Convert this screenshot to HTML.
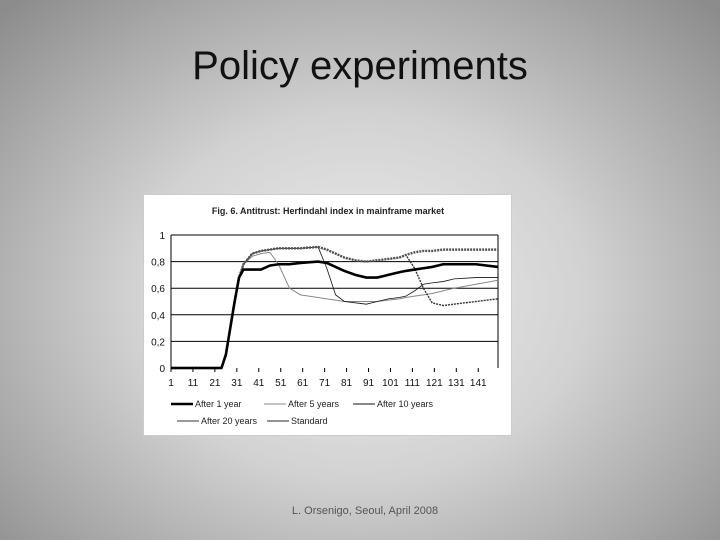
<!DOCTYPE html>
<html><head><meta charset="utf-8"><style>
html,body{margin:0;padding:0}
body{width:720px;height:540px;overflow:hidden;position:relative;background:radial-gradient(ellipse 70% 75% at 50% 55%,#eeeeee 0%,#d2d2d2 45%,#a6a6a6 80%,#8c8c8c 100%);font-family:"Liberation Sans",sans-serif}
#title{position:absolute;top:44px;left:0;width:720px;text-align:center;font-size:40px;color:#111}
#footer{position:absolute;top:505px;left:0;width:730px;text-align:center;font-size:11px;color:#555}
#chart{position:absolute;left:143px;top:194px;width:369px;height:242px;background:#fff;border:1px solid #ccc;box-sizing:border-box}
</style></head><body>
<div id="title">Policy experiments</div>
<div id="chart">
<svg id="svg" width="369" height="242"></svg>
</div>
<div id="footer">L. Orsenigo, Seoul, April 2008</div>
<script>
const xIdx=[1,24,26,28,30,32,34,38,42,46,50,55,60,68,72,76,80,85,90,95,100,105,108,112,116,120,125,130,140,150];
const standard=[0,0,0.1,0.3,0.5,0.68,0.78,0.86,0.88,0.89,0.9,0.9,0.9,0.91,0.89,0.86,0.83,0.81,0.8,0.81,0.82,0.83,0.85,0.87,0.88,0.88,0.89,0.89,0.89,0.89];
const after1=[0,0,0.1,0.3,0.5,0.68,0.74,0.74,0.74,0.77,0.78,0.78,0.79,0.8,0.79,0.76,0.73,0.7,0.68,0.68,0.7,0.72,0.73,0.74,0.75,0.76,0.78,0.78,0.78,0.76];
const after5=[0,0,0.1,0.3,0.5,0.68,0.78,0.84,0.86,0.87,0.78,0.6,0.55,0.53,0.52,0.51,0.5,0.5,0.5,0.5,0.51,0.52,0.53,0.54,0.55,0.56,0.58,0.6,0.63,0.66];
const after10=[0,0,0.1,0.3,0.5,0.68,0.78,0.86,0.88,0.89,0.9,0.9,0.9,0.91,0.75,0.55,0.5,0.49,0.48,0.5,0.52,0.53,0.54,0.58,0.63,0.64,0.65,0.67,0.68,0.68];
const after20=[0,0,0.1,0.3,0.5,0.68,0.78,0.86,0.88,0.89,0.9,0.9,0.9,0.91,0.89,0.86,0.83,0.81,0.8,0.81,0.82,0.83,0.85,0.75,0.6,0.49,0.47,0.48,0.5,0.52];
const yTicks=[0,0.2,0.4,0.6,0.8,1];
const yTickLabels=["0","0,2","0,4","0,6","0,8","1"];
const xTicks=[1,11,21,31,41,51,61,71,81,91,101,111,121,131,141];
const NS="http://www.w3.org/2000/svg";
const svg=document.getElementById('svg');
const X0=27,X1=354,Y0=173,Y1=40;
const xs=v=>X0+(v-1)/(150-1)*(X1-X0);
const ys=v=>Y0-v*(Y0-Y1);
function mk(t,a){const e=document.createElementNS(NS,t);for(const k in a)e.setAttribute(k,a[k]);svg.appendChild(e);return e;}
let t=mk('text',{x:184,y:19,'font-size':'9','font-weight':'bold','text-anchor':'middle',fill:'#222'});t.textContent='Fig. 6. Antitrust: Herfindahl index in mainframe market';

yTicks.forEach((v,i)=>{
 if(v>0){const g=mk('line',{x1:X0,x2:X1,y1:ys(v),y2:ys(v),stroke:'#000','stroke-width':1});
 }
 const l=mk('text',{x:X0-6,y:ys(v)+4,'font-size':'10','text-anchor':'end',fill:'#111'});l.textContent=yTickLabels[i];
 
});
let ax=mk('line',{x1:X0,x2:X0,y1:Y1,y2:Y0,stroke:'#000'});
ax=mk('line',{x1:X1,x2:X1,y1:Y1,y2:Y0,stroke:'#000'});
xTicks.forEach(v=>{
 const tk=mk('line',{x1:xs(v),x2:xs(v),y1:Y0,y2:Y0+4,stroke:'#000'});
 const l=mk('text',{x:xs(v),y:Y0+18,'font-size':'10','text-anchor':'middle',fill:'#111'});l.textContent=v;
 
});
function pts(arr){return arr.map((v,i)=>xs(xIdx[i])+','+ys(v)).join(' ');}
const series=[
 {d:after5,c:'#888',w:1,n:'series-after-5-years'},
 {d:after10,c:'#111',w:0.8,n:'series-after-10-years'},
 {d:after20,c:'#333',w:1.4,n:'series-after-20-years',dash:'2,1'},
 {d:standard,c:'#555',w:2.4,n:'series-standard',dash:'2,1'},
 {d:after1,c:'#000',w:2.6,n:'series-after-1-year'}];
series.forEach(s=>{const p=mk('polyline',{points:pts(s.d),fill:'none',stroke:s.c,'stroke-width':s.w,'stroke-dasharray':s.dash||'none'});
 });
const leg=[[51,212,'After 1 year','#000',2.6],[144,212,'After 5 years','#888',1],[233,212,'After 10 years','#111',1],[57,229,'After 20 years','#333',1],[147,229,'Standard','#555',1.3]];
leg.forEach(l=>{const ln=mk('line',{x1:l[0]-24,x2:l[0]-2,y1:l[1]-3,y2:l[1]-3,stroke:l[3],'stroke-width':l[4]});
 
 const tx=mk('text',{x:l[0],y:l[1],'font-size':'9',fill:'#222'});tx.textContent=l[2];
 });
</script>
</body></html>
